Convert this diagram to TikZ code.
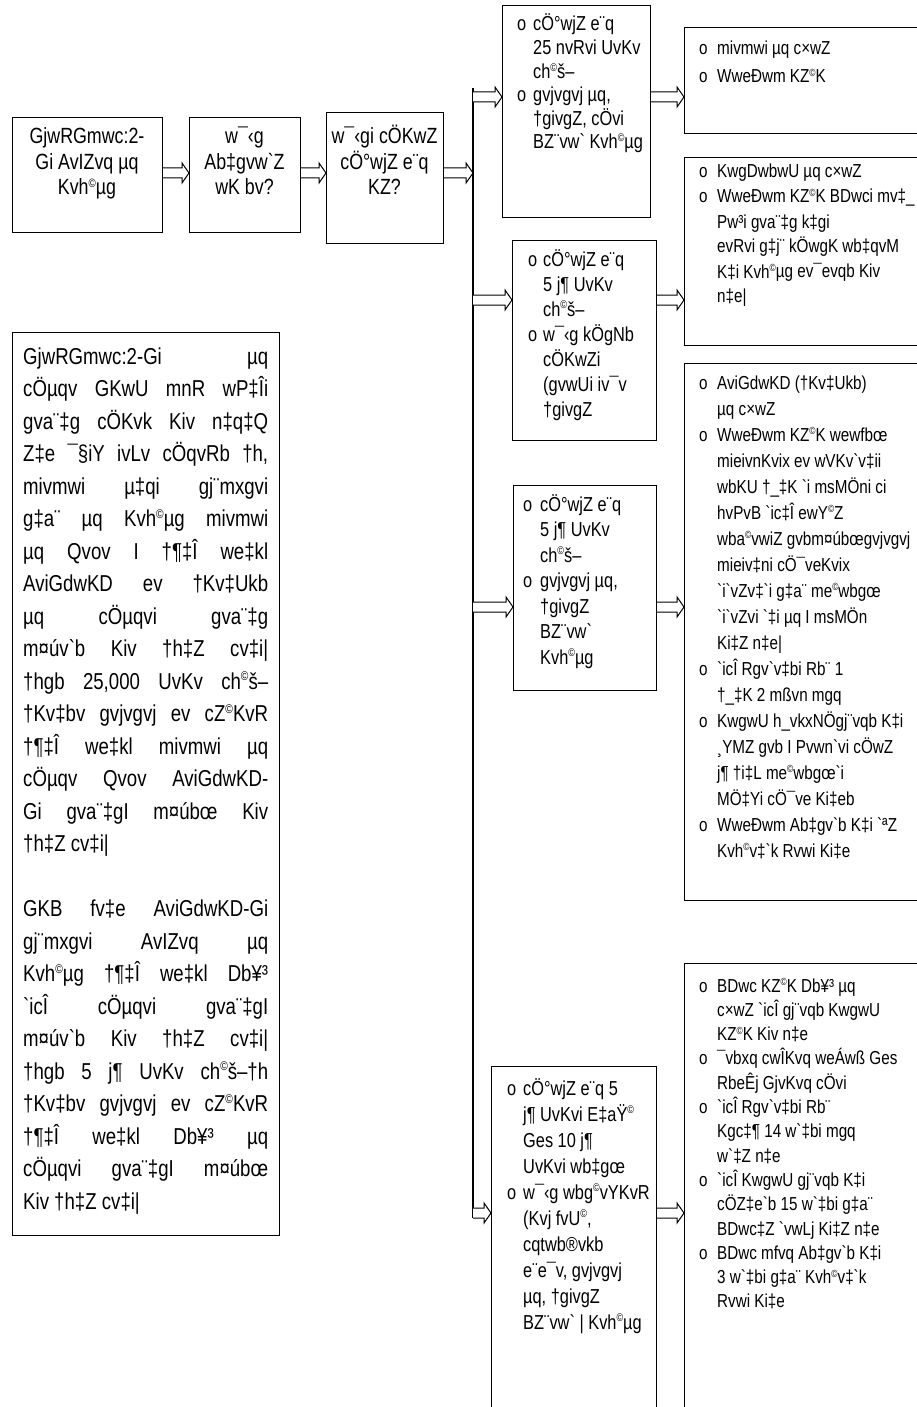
\documentclass[tikz,border=0pt]{standalone}
\usepackage{fontspec}
\usepackage{graphicx}
\newfontfamily\bn{Liberation Sans}[FakeStretch=0.81]
\usetikzlibrary{calc}
\catcode`\©=\active \def©{\raisebox{0.35em}{\scalebox{0.55}{\symbol{"A9}}}}
\newlength\bw
\newcommand\bul{\makebox[\bw][l]{o}}
\newcommand\ind{\hspace*{\bw}}
\newcommand\jl[1]{\makebox[245pt][s]{#1}}
\newcommand\fT{\bn\fontsize{22}{25.5}\selectfont}
\newcommand\fF{\bn\fontsize{23}{32.5}\selectfont}
\newcommand\fD[1]{\bn\fontsize{20.2}{#1}\selectfont}
\newcommand\fE[1]{\bn\fontsize{18.8}{#1}\selectfont}
\newcommand\barr[2]{\draw[arr] let \p1=(#1), \p2=(#2) in (\x1,\y1+5pt) -- (\x2-7pt,\y1+5pt) -- (\x2-7pt,\y1+10pt) -- (\x2,\y1) -- (\x2-7pt,\y1-10pt) -- (\x2-7pt,\y1-5pt) -- (\x1,\y1-5pt);}
\tikzset{
  box/.style={draw, line width=1.2pt, inner sep=0pt, anchor=north west},
  tl/.style={inner sep=0pt, anchor=base west},
  tc/.style={inner sep=0pt, anchor=base},
  arr/.style={draw, line width=1pt, fill=white, line join=miter},
  mline/.style={line width=1.2pt}
}
\begin{document}
\begin{tikzpicture}[x=1pt,y=-1pt]
\useasboundingbox (0,0) rectangle (917,1407);
\fill[white] (0,0) rectangle (917,1407);
\clip (0,0) rectangle (917,1407);

% top row
\node[box, minimum width=150pt, minimum height=115pt] (A) at (12,117) {};
\node[box, minimum width=111pt, minimum height=115pt] (B) at (189,117) {};
\node[box, minimum width=117pt, minimum height=131pt] (C) at (326,112) {};
\node[tc] (At) at (87,144) {\parbox[t]{140pt}{\centering\fT GjwRGmwc:2-\\Gi AvIZvq µq\\Kvh©µg}};
\node[tc] (Bt) at (244.5,144) {\parbox[t]{105pt}{\centering\fT w¯‹g\\Ab‡gvw`Z\\wK bv?}};
\node[tc] (Ct) at (384.5,144) {\parbox[t]{112pt}{\centering\fT w¯‹gi cÖKwZ\\cÖ°wjZ e¨q\\KZ?}};

% main vertical line
\coordinate (mtop) at (473,88);
\coordinate (mbot) at (473,1218);
\draw[mline] (mtop) -- (mbot);
\coordinate (m1) at (473,97);
\coordinate (m2) at (473,300);
\coordinate (m3) at (473,607);
\coordinate (m4) at (473,1213);

% left text box
\node[box, minimum width=267pt, minimum height=903pt] (F) at (12,332) {};
\node[tl] (Ft) at (23,364) {\parbox[t]{250pt}{\fF\raggedright
\jl{GjwRGmwc:2-Gi µq}\\
\jl{cÖµqv GKwU mnR wP‡Îi}\\
\jl{gva¨‡g cÖKvk Kiv n‡q‡Q}\\
\jl{Z‡e ¯§iY ivLv cÖqvRb †h,}\\
\jl{mivmwi µ‡qi gj¨mxgvi}\\
\jl{g‡a¨ µq Kvh©µg mivmwi}\\
\jl{µq Qvov I †¶‡Î we‡kl}\\
\jl{AviGdwKD ev †Kv‡Ukb}\\
\jl{µq cÖµqvi gva¨‡g}\\
\jl{m¤úv`b Kiv †h‡Z cv‡i|}\\
\jl{†hgb 25,000 UvKv ch©š–}\\
\jl{†Kv‡bv gvjvgvj ev cZ©KvR}\\
\jl{†¶‡Î we‡kl mivmwi µq}\\
\jl{cÖµqv Qvov AviGdwKD-}\\
\jl{Gi gva¨‡gI m¤úbœ Kiv}\\
†h‡Z cv‡i|\\
\mbox{}\\
\jl{GKB fv‡e AviGdwKD-Gi}\\
\jl{gj¨mxgvi AvIZvq µq}\\
\jl{Kvh©µg †¶‡Î we‡kl Db¥³}\\
\jl{`icÎ cÖµqvi gva¨‡gI}\\
\jl{m¤úv`b Kiv †h‡Z cv‡i|}\\
\jl{†hgb 5 j¶ UvKv ch©š–†h}\\
\jl{†Kv‡bv gvjvgvj ev cZ©KvR}\\
\jl{†¶‡Î we‡kl Db¥³ µq}\\
\jl{cÖµqvi gva¨‡gI m¤úbœ}\\
Kiv †h‡Z cv‡i|}};

% middle column
\node[box, minimum width=148pt, minimum height=212pt] (D1) at (502,5) {};
\node[box, minimum width=144pt, minimum height=200pt] (D2) at (512,240) {};
\node[box, minimum width=143pt, minimum height=205pt] (D3) at (513,485) {};
\node[box, minimum width=165pt, minimum height=400pt] (D4) at (491,1066) {};
\node[tl] (D1t) at (517,31) {\parbox[t]{200pt}{\fD{23.6}\setlength\bw{16pt}\raggedright
\bul cÖ°wjZ e¨q\\ \ind 25 nvRvi UvKv\\ \ind ch©š–\\
\bul gvjvgvj µq,\\ \ind †givgZ, cÖvi\\ \ind BZ¨vw` Kvh©µg}};
\node[tl] (D2t) at (528,266) {\parbox[t]{200pt}{\fD{25}\setlength\bw{15pt}\raggedright
\bul cÖ°wjZ e¨q\\ \ind 5 j¶ UvKv\\ \ind ch©š–\\
\bul w¯‹g kÖgNb\\ \ind cÖKwZi\\ \ind (gvwUi iv¯v\\ \ind †givgZ}};
\node[tl] (D3t) at (523,511) {\parbox[t]{200pt}{\fD{25.5}\setlength\bw{17pt}\raggedright
\bul cÖ°wjZ e¨q\\ \ind 5 j¶ UvKv\\ \ind ch©š–\\
\bul gvjvgvj µq,\\ \ind †givgZ\\ \ind BZ¨vw`\\ \ind Kvh©µg}};
\node[tl] (D4t) at (507,1095) {\parbox[t]{200pt}{\fD{26}\setlength\bw{16pt}\raggedright
\bul cÖ°wjZ e¨q 5\\ \ind j¶ UvKvi E‡aŸ©\\ \ind Ges 10 j¶\\ \ind UvKvi wb‡gœ\\
\bul w¯‹g wbg©vYKvR\\ \ind (Kvj fvU©,\\ \ind cqtwb®vkb\\ \ind e¨e¯v, gvjvgvj\\
\ind µq, †givgZ\\ \ind BZ¨vw` | Kvh©µg}};

% right column
\node[box, minimum width=250pt, minimum height=106pt] (E1) at (684,27) {};
\node[box, minimum width=250pt, minimum height=188pt] (E2) at (684,157) {};
\node[box, minimum width=250pt, minimum height=537pt] (E3) at (684,363) {};
\node[box, minimum width=250pt, minimum height=480pt] (E4) at (684,963) {};
\node[tl] (E1t) at (699,55) {\parbox[t]{240pt}{\fE{28}\setlength\bw{18pt}\raggedright
\bul mivmwi µq c×wZ\\ \bul WweÐwm KZ©K}};
\node[tl] (E2t) at (699,178) {\parbox[t]{240pt}{\fE{25}\setlength\bw{18pt}\raggedright
\bul KwgDwbwU µq c×wZ\\ \bul WweÐwm KZ©K BDwci mv‡\_\\ \ind Pw³i gva¨‡g k‡gi\\
\ind evRvi g‡j¨ kÖwgK wb‡qvM\\ \ind K‡i Kvh©µg ev¯evqb Kiv\\ \ind n‡e|}};
\node[tl] (E3t) at (699,389) {\parbox[t]{240pt}{\fE{26}\setlength\bw{18pt}\raggedright
\bul AviGdwKD (†Kv‡Ukb)\\ \ind µq c×wZ\\
\bul WweÐwm KZ©K wewfbœ\\ \ind mieivnKvix ev wVKv`v‡ii\\ \ind wbKU †\_‡K `i msMÖni ci\\
\ind hvPvB `ic‡Î ewY©Z\\ \ind wba©vwiZ gvbm¤úbœgvjvgvj\\ \ind mieiv‡ni cÖ¯veKvix\\
\ind `i`vZv‡`i g‡a¨ me©wbgœ\\ \ind `i`vZvi `‡i µq I msMÖn\\ \ind Ki‡Z n‡e|\\
\bul `icÎ Rgv`v‡bi Rb¨ 1\\ \ind †\_‡K 2 mßvn mgq\\
\bul KwgwU h\_vkxNÖgj¨vqb K‡i\\ \ind ¸YMZ gvb I Pvwn`vi cÖwZ\\ \ind j¶ †i‡L me©wbgœ`i\\
\ind MÖ‡Yi cÖ¯ve Ki‡eb\\
\bul WweÐwm Ab‡gv`b K‡i `ªZ\\ \ind Kvh©v‡`k Rvwi Ki‡e}};
\node[tl] (E4t) at (699,992) {\parbox[t]{240pt}{\fE{24.3}\setlength\bw{18pt}\raggedright
\bul BDwc KZ©K Db¥³ µq\\ \ind c×wZ `icÎ gj¨vqb KwgwU\\ \ind KZ©K Kiv n‡e\\
\bul ¯vbxq cwÎKvq weÁwß Ges\\ \ind RbeÊj GjvKvq cÖvi\\
\bul `icÎ Rgv`v‡bi Rb¨\\ \ind Kgc‡¶ 14 w`‡bi mgq\\ \ind w`‡Z n‡e\\
\bul `icÎ KwgwU gj¨vqb K‡i\\ \ind cÖZ‡e`b 15 w`‡bi g‡a¨\\ \ind BDwc‡Z `vwLj Ki‡Z n‡e\\
\bul BDwc mfvq Ab‡gv`b K‡i\\ \ind 3 w`‡bi g‡a¨ Kvh©v‡`k\\ \ind Rvwi Ki‡e}};

% arrows
\barr{A.east |- 0,173}{B.west |- 0,173}
\barr{B.east |- 0,173}{C.west |- 0,173}
\barr{C.east |- 0,173}{mtop |- 0,173}
\barr{m1}{m1 -| D1.west}
\barr{m2}{m2 -| D2.west}
\barr{m3}{m3 -| D3.west}
\barr{m4}{m4 -| D4.west}
\barr{m1 -| D1.east}{m1 -| E1.west}
\barr{m2 -| D2.east}{m2 -| E2.west}
\barr{m3 -| D3.east}{m3 -| E3.west}
\barr{m4 -| D4.east}{m4 -| E4.west}
\end{tikzpicture}
\end{document}
